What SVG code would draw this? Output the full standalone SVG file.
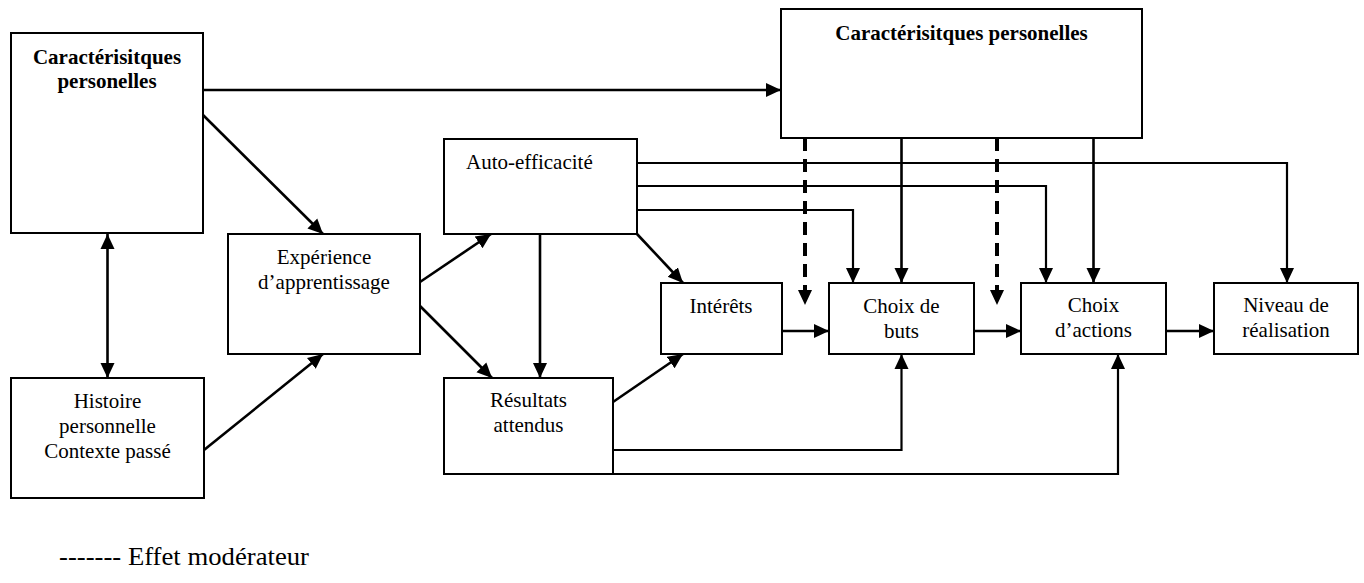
<svg xmlns="http://www.w3.org/2000/svg" width="1364" height="583" viewBox="0 0 1364 583">
  <style>
    .box { fill: #fff; stroke: #000; stroke-width: 2; }
    .t { font-family: "Liberation Serif", "Times New Roman", serif; font-size: 21px; fill: #000; text-anchor: middle; }
    .b { font-weight: bold; }
    .c { fill: none; stroke: #000; stroke-width: 2.6; }
    .thin { stroke-width: 2.2; }
    .dash { fill: none; stroke: #000; stroke-width: 4; stroke-dasharray: 13 8; }
  </style>
  <defs>
    <marker id="arrow" markerUnits="userSpaceOnUse" markerWidth="16" markerHeight="16" refX="15" refY="7" orient="auto-start-reverse" viewBox="0 0 16 14">
      <path d="M0,0 L15,7 L0,14 z" fill="#000"/>
    </marker>
  </defs>
  <rect width="1364" height="583" fill="#fff"/>

  <!-- connectors -->
  <g id="connectors">
    <path class="c" d="M203,90 H781" marker-end="url(#arrow)"/>
    <path class="c" d="M203,115 L323,234" marker-end="url(#arrow)"/>
    <path class="c" d="M107.5,234 V378" marker-start="url(#arrow)" marker-end="url(#arrow)"/>
    <path class="c" d="M204,450 L323,354" marker-end="url(#arrow)"/>
    <path class="c" d="M420,282 L491,234" marker-end="url(#arrow)"/>
    <path class="c" d="M420,306 L492,378" marker-end="url(#arrow)"/>
    <path class="c" d="M540,234 V378" marker-end="url(#arrow)"/>
    <path class="c" d="M637,234 L683,283" marker-end="url(#arrow)"/>
    <path class="c" d="M613,402 L683,354" marker-end="url(#arrow)"/>
    <path class="c" d="M781,331 H829" marker-end="url(#arrow)"/>
    <path class="c" d="M974,331 H1021" marker-end="url(#arrow)"/>
    <path class="c" d="M1166,331 H1214" marker-end="url(#arrow)"/>
    <path class="c thin" d="M637,163 H1287 V283" marker-end="url(#arrow)"/>
    <path class="c thin" d="M637,186 H1046 V283" marker-end="url(#arrow)"/>
    <path class="c thin" d="M637,210 H853 V283" marker-end="url(#arrow)"/>
    <path class="c" d="M901.5,138 V283" marker-end="url(#arrow)"/>
    <path class="c" d="M1093.5,138 V283" marker-end="url(#arrow)"/>
    <path class="dash" d="M805,138 V305" marker-end="url(#arrow)"/>
    <path class="dash" d="M997,138 V305" marker-end="url(#arrow)"/>
    <path class="c thin" d="M613,450 H901.5 V354" marker-end="url(#arrow)"/>
    <path class="c thin" d="M613,474 H1118 V354" marker-end="url(#arrow)"/>
  </g>

  <g id="caract-left">
    <rect class="box" x="11" y="33" width="192" height="200"/>
    <text class="t b" x="107" y="64">Caractérisitques</text>
    <text class="t b" x="107" y="88">personelles</text>
  </g>
  <g id="histoire">
    <rect class="box" x="11" y="378" width="193" height="120"/>
    <text class="t" x="107.5" y="408">Histoire</text>
    <text class="t" x="107.5" y="433">personnelle</text>
    <text class="t" x="107.5" y="458">Contexte passé</text>
  </g>
  <g id="experience">
    <rect class="box" x="228" y="234" width="192" height="120"/>
    <text class="t" x="324" y="264">Expérience</text>
    <text class="t" x="324" y="289">d’apprentissage</text>
  </g>
  <g id="auto-efficacite">
    <rect class="box" x="444" y="139" width="193" height="95"/>
    <text class="t" x="466" y="169" style="text-anchor:start">Auto-efficacité</text>
  </g>
  <g id="resultats">
    <rect class="box" x="444" y="378" width="169" height="96"/>
    <text class="t" x="528.5" y="407">Résultats</text>
    <text class="t" x="528.5" y="432">attendus</text>
  </g>
  <g id="caract-right">
    <rect class="box" x="781" y="9" width="361" height="129"/>
    <text class="t b" x="961.5" y="40">Caractérisitques personelles</text>
  </g>
  <g id="interets">
    <rect class="box" x="661" y="283" width="121" height="71"/>
    <text class="t" x="721" y="313">Intérêts</text>
  </g>
  <g id="choix-buts">
    <rect class="box" x="829" y="283" width="145" height="71"/>
    <text class="t" x="901.5" y="313">Choix de</text>
    <text class="t" x="901.5" y="338">buts</text>
  </g>
  <g id="choix-actions">
    <rect class="box" x="1021" y="283" width="145" height="71"/>
    <text class="t" x="1093.5" y="312">Choix</text>
    <text class="t" x="1093.5" y="337">d’actions</text>
  </g>
  <g id="niveau">
    <rect class="box" x="1214" y="283" width="144" height="71"/>
    <text class="t" x="1286" y="312">Niveau de</text>
    <text class="t" x="1286" y="337">réalisation</text>
  </g>

  <g id="legend">
    <text class="t" x="59" y="565" style="text-anchor:start;font-size:25px" textLength="250" lengthAdjust="spacingAndGlyphs">------- Effet modérateur</text>
  </g>
</svg>
